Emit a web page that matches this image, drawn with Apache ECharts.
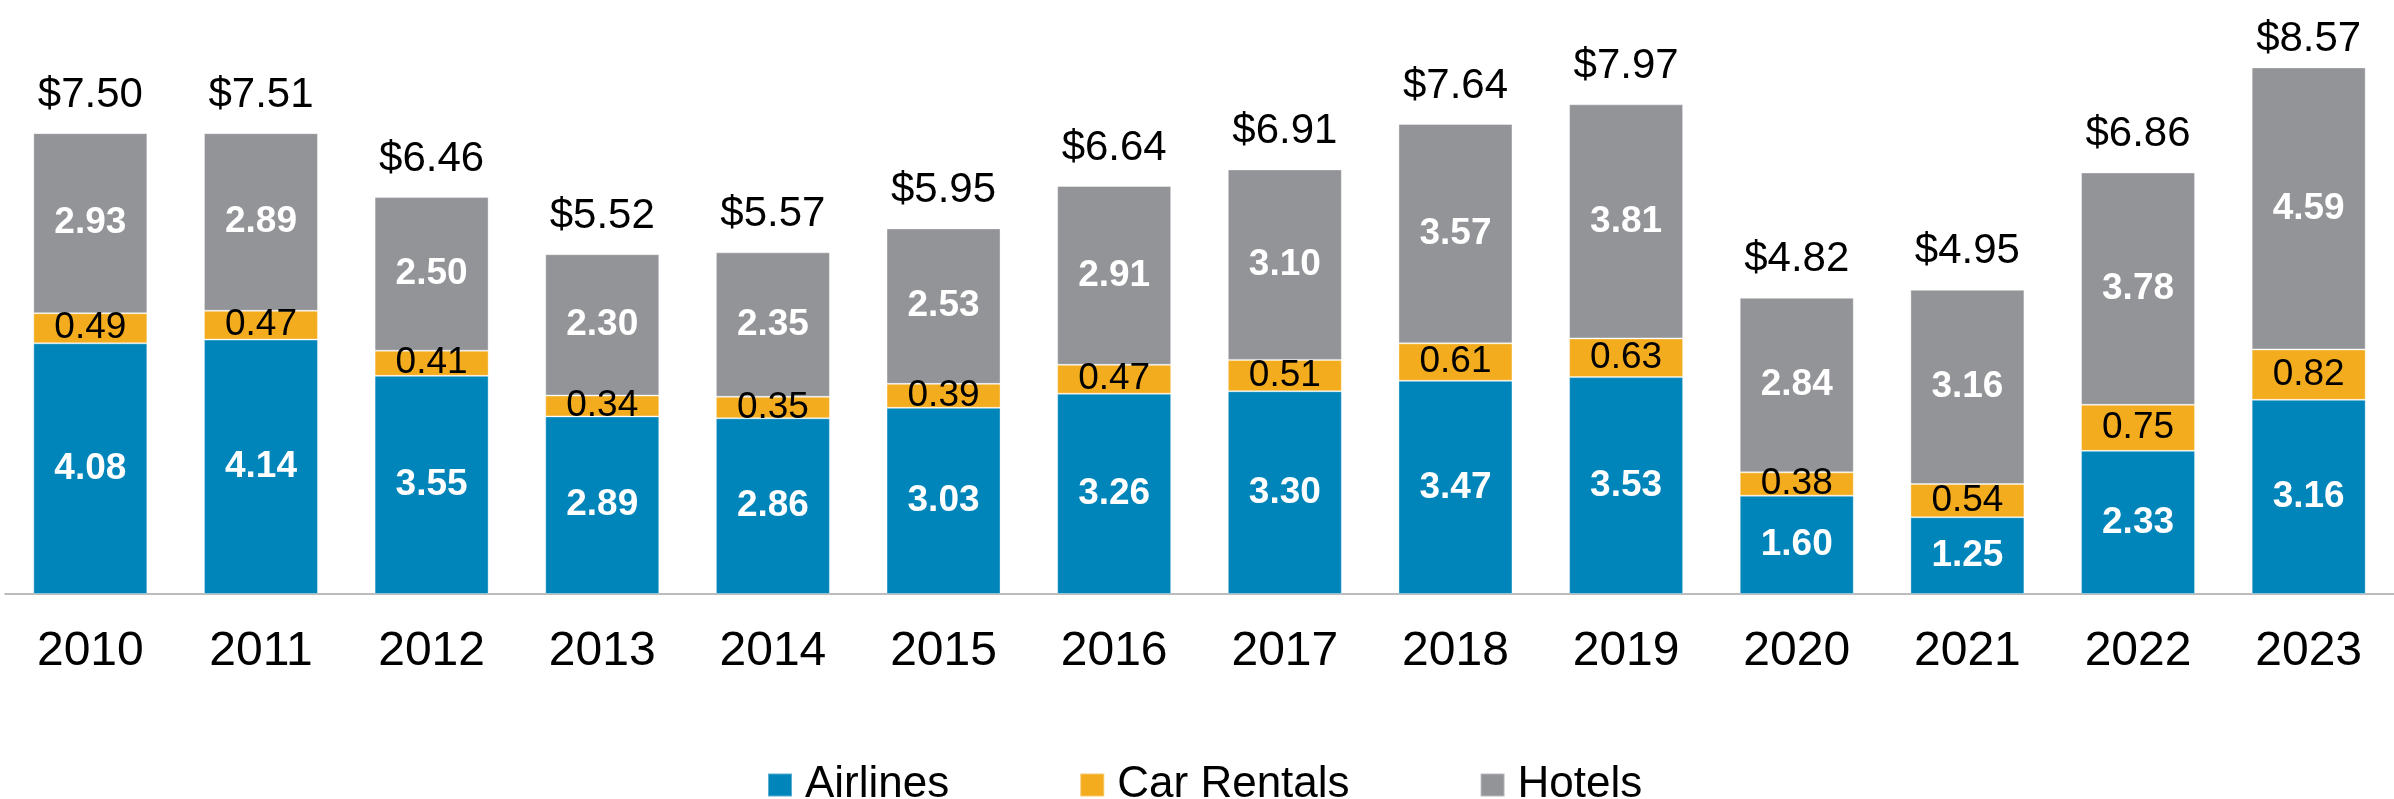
<!DOCTYPE html>
<html>
<head>
<meta charset="utf-8">
<title>Travel spend</title>
<script src="https://cdn.jsdelivr.net/npm/echarts@6/dist/echarts.min.js"></script>
<style>
  html, body { margin: 0; padding: 0; background: #fff; }
  #chart { width: 2394px; height: 799px; }
</style>
</head>
<body>
<div id="chart"></div>
<script>
const years = ['2010', '2011', '2012', '2013', '2014', '2015', '2016', '2017', '2018', '2019', '2020', '2021', '2022', '2023']
const airlines = [4.08, 4.14, 3.55, 2.89, 2.86, 3.03, 3.26, 3.30, 3.47, 3.53, 1.60, 1.25, 2.33, 3.16]
const carRentals = [0.49, 0.47, 0.41, 0.34, 0.35, 0.39, 0.47, 0.51, 0.61, 0.63, 0.38, 0.54, 0.75, 0.82]
const hotels = [2.93, 2.89, 2.50, 2.30, 2.35, 2.53, 2.91, 3.10, 3.57, 3.81, 2.84, 3.16, 3.78, 4.59]
// totals as printed above each bar
const totals = [7.50, 7.51, 6.46, 5.52, 5.57, 5.95, 6.64, 6.91, 7.64, 7.97, 4.82, 4.95, 6.86, 8.57]

const FONT = '"Liberation Sans", Arial, sans-serif'
const fmt = p => p.value.toFixed(2)

const chart = echarts.init(document.getElementById('chart'))

chart.setOption({
  animation: false,
  textStyle: { fontFamily: FONT },
  grid: { left: 5, right: 0, top: 41, bottom: 205 },
  legend: {
    left: 762,
    top: 758,
    icon: 'rect',
    itemWidth: 24,
    itemHeight: 23,
    itemGap: 130,
    textStyle: { fontSize: 44, color: '#000', fontFamily: FONT, padding: [0, 0, 0, 8] },
    data: ['Airlines', 'Car Rentals', 'Hotels']
  },
  xAxis: {
    type: 'category',
    data: years,
    axisTick: { show: false },
    axisLine: { lineStyle: { color: '#a6a6a6', width: 1.5 } },
    axisLabel: { fontSize: 48, color: '#000', margin: 34, fontFamily: FONT }
  },
  yAxis: {
    type: 'value',
    min: 0,
    max: 9,
    show: false,
    splitLine: { show: false }
  },
  series: [
    {
      name: 'Airlines',
      type: 'bar',
      stack: 'total',
      barWidth: 114,
      data: airlines,
      itemStyle: { color: '#0085ba', borderColor: 'rgba(255,255,255,0.35)', borderWidth: 1 },
      label: {
        show: true,
        position: 'inside',
        formatter: fmt,
        color: '#fff',
        fontWeight: 'bold',
        fontSize: 37,
        fontFamily: FONT
      }
    },
    {
      name: 'Car Rentals',
      type: 'bar',
      stack: 'total',
      data: carRentals,
      itemStyle: { color: '#f3ac1e', borderColor: 'rgba(255,255,255,0.35)', borderWidth: 1 },
      label: {
        show: true,
        position: 'inside',
        formatter: fmt,
        color: '#000',
        fontSize: 37,
        fontFamily: FONT
      }
    },
    {
      name: 'Hotels',
      type: 'bar',
      stack: 'total',
      data: hotels,
      itemStyle: { color: '#939498', borderColor: 'rgba(255,255,255,0.35)', borderWidth: 1 },
      label: {
        show: true,
        position: 'inside',
        formatter: fmt,
        color: '#fff',
        fontWeight: 'bold',
        fontSize: 37,
        fontFamily: FONT
      }
    },
    {
      // invisible series only to carry the total labels on top of each stack
      name: 'Total',
      type: 'bar',
      stack: 'total',
      // the tallest label is squeezed down to stay inside the picture
      data: totals.map(t => (t > 8.3 ? { value: 0, label: { distance: 7 } } : 0)),
      itemStyle: { color: 'transparent' },
      label: {
        show: true,
        position: 'top',
        distance: 17,
        formatter: p => '$' + totals[p.dataIndex].toFixed(2),
        color: '#000',
        fontSize: 42,
        fontFamily: FONT
      }
    }
  ]
})
</script>
</body>
</html>
